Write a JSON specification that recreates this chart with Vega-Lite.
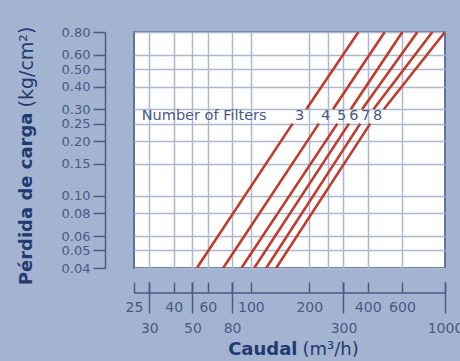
{
  "$schema": "https://vega.github.io/schema/vega-lite/v6.json",
  "width": 311,
  "height": 236,
  "autosize": {"type": "none"},
  "padding": {"left": 134, "top": 32, "right": 15, "bottom": 93},
  "background": "#a3b4d3",
  "config": {
    "view": {"fill": "#ffffff", "stroke": "#62729b", "strokeWidth": 2},
    "font": "DejaVu Sans",
    "axis": {
      "labelFont": "DejaVu Sans", "labelFontSize": 14, "labelColor": "#4a5a84",
      "titleFont": "DejaVu Sans", "titleFontSize": 18, "titleColor": "#233a6e",
      "domainColor": "#4a5a84", "tickColor": "#4a5a84", "domainWidth": 1.5, "tickWidth": 1.5,
      "gridColor": "#adb7d3", "gridWidth": 1.5,
      "labelFlush": false, "labelOverlap": false, "labelBound": false, "grid": false
    }
  },
  "datasets": {
    "lines": [
      {"filters": "3", "seg": "lower", "caudal": 52.7, "perdida": 0.04},
      {"filters": "3", "seg": "lower", "caudal": 164, "perdida": 0.25},
      {"filters": "3", "seg": "upper", "caudal": 193, "perdida": 0.30},
      {"filters": "3", "seg": "upper", "caudal": 358, "perdida": 0.80},
      {"filters": "4", "seg": "lower", "caudal": 72, "perdida": 0.04},
      {"filters": "4", "seg": "lower", "caudal": 224, "perdida": 0.25},
      {"filters": "4", "seg": "upper", "caudal": 265, "perdida": 0.30},
      {"filters": "4", "seg": "upper", "caudal": 489, "perdida": 0.80},
      {"filters": "5", "seg": "lower", "caudal": 89.4, "perdida": 0.04},
      {"filters": "5", "seg": "lower", "caudal": 279, "perdida": 0.25},
      {"filters": "5", "seg": "upper", "caudal": 327, "perdida": 0.30},
      {"filters": "5", "seg": "upper", "caudal": 603, "perdida": 0.80},
      {"filters": "6", "seg": "lower", "caudal": 104, "perdida": 0.04},
      {"filters": "6", "seg": "lower", "caudal": 320, "perdida": 0.25},
      {"filters": "6", "seg": "upper", "caudal": 374, "perdida": 0.30},
      {"filters": "6", "seg": "upper", "caudal": 721, "perdida": 0.80},
      {"filters": "7", "seg": "lower", "caudal": 120, "perdida": 0.04},
      {"filters": "7", "seg": "lower", "caudal": 366, "perdida": 0.25},
      {"filters": "7", "seg": "upper", "caudal": 428, "perdida": 0.30},
      {"filters": "7", "seg": "upper", "caudal": 861, "perdida": 0.80},
      {"filters": "8", "seg": "lower", "caudal": 135, "perdida": 0.04},
      {"filters": "8", "seg": "lower", "caudal": 412, "perdida": 0.25},
      {"filters": "8", "seg": "upper", "caudal": 484, "perdida": 0.30},
      {"filters": "8", "seg": "upper", "caudal": 1000, "perdida": 0.80}
    ],
    "notes": [
      {"label": "Number of Filters", "caudal": 27.4, "perdida": 0.274}
    ],
    "counts": [
      {"label": "3", "caudal": 178, "perdida": 0.274},
      {"label": "4", "caudal": 243, "perdida": 0.274},
      {"label": "5", "caudal": 293, "perdida": 0.274},
      {"label": "6", "caudal": 339, "perdida": 0.274},
      {"label": "7", "caudal": 391, "perdida": 0.274},
      {"label": "8", "caudal": 449, "perdida": 0.274}
    ]
  },
  "resolve": {"axis": {"x": "independent", "y": "independent"}},
  "layer": [
    {
      "data": {"name": "lines"},
      "transform": [{"filter": "datum.seg === 'lower'"}],
      "mark": {"type": "line", "color": "#c23a2a", "strokeWidth": 2.6, "clip": true},
      "encoding": {
        "x": {
          "field": "caudal", "type": "quantitative",
          "scale": {"type": "log", "domain": [25, 1000], "nice": false},
          "axis": {
            "orient": "bottom", "values": [30, 40, 50, 60, 80, 100, 200, 250, 300, 400, 600],
            "grid": true, "ticks": false, "labels": false, "domain": false, "title": null
          }
        },
        "y": {
          "field": "perdida", "type": "quantitative",
          "scale": {"type": "log", "domain": [0.04, 0.8], "nice": false},
          "axis": {
            "orient": "left", "offset": 29,
            "values": [0.04, 0.05, 0.06, 0.08, 0.1, 0.15, 0.2, 0.25, 0.3, 0.4, 0.5, 0.6, 0.8],
            "format": ".2f", "grid": true, "tickSize": 12, "labelPadding": 3, "labelFontSize": 13,
            "title": "Pérdida de carga", "titleFontWeight": "bold",
            "titleX": -79, "titleY": 80, "titleAlign": "right", "titleBaseline": "middle", "titleAngle": -90
          }
        },
        "detail": {"field": "filters"}
      }
    },
    {
      "data": {"name": "lines"},
      "transform": [{"filter": "datum.seg === 'upper'"}],
      "mark": {"type": "line", "color": "#c23a2a", "strokeWidth": 2.6, "clip": true},
      "encoding": {
        "x": {
          "field": "caudal", "type": "quantitative",
          "scale": {"type": "log", "domain": [25, 1000], "nice": false},
          "axis": {
            "orient": "bottom", "offset": 24.5, "values": [25, 40, 60, 100, 200, 400, 600],
            "format": "d", "ticks": false, "labels": true, "labelPadding": 8, "domain": true, "title": null
          }
        },
        "y": {
          "field": "perdida", "type": "quantitative",
          "scale": {"type": "log", "domain": [0.04, 0.8], "nice": false},
          "axis": {
            "orient": "left", "offset": 29, "values": [0.8],
            "ticks": false, "labels": false, "domain": false, "grid": false,
            "title": "(kg/cm²)", "titleFontWeight": "normal", "titleFontSize": 19,
            "titleX": -79, "titleY": 75, "titleAlign": "left", "titleBaseline": "middle", "titleAngle": -90
          }
        },
        "detail": {"field": "filters"}
      }
    },
    {
      "data": {"name": "notes"},
      "mark": {"type": "text", "align": "left", "baseline": "middle", "fontSize": 14.5, "color": "#4a5a84", "font": "DejaVu Sans"},
      "encoding": {
        "x": {
          "field": "caudal", "type": "quantitative",
          "scale": {"type": "log", "domain": [25, 1000], "nice": false},
          "axis": {
            "orient": "bottom", "offset": 14, "values": [25, 30, 40, 50, 60, 80, 100, 200, 300, 400, 600, 1000],
            "ticks": true, "tickSize": 10.5, "labels": false, "domain": false,
            "title": "Caudal", "titleFontWeight": "bold",
            "titleX": 163, "titleY": 67, "titleAlign": "right", "titleBaseline": "middle"
          }
        },
        "y": {
          "field": "perdida", "type": "quantitative",
          "scale": {"type": "log", "domain": [0.04, 0.8], "nice": false},
          "axis": null
        },
        "text": {"field": "label"}
      }
    },
    {
      "data": {"name": "counts"},
      "mark": {"type": "text", "align": "center", "baseline": "middle", "fontSize": 14.5, "color": "#4a5a84", "font": "DejaVu Sans"},
      "encoding": {
        "x": {
          "field": "caudal", "type": "quantitative",
          "scale": {"type": "log", "domain": [25, 1000], "nice": false},
          "axis": {
            "orient": "bottom", "offset": 14, "values": [30, 50, 80, 300, 1000],
            "format": "d", "ticks": true, "tickSize": 31, "labels": true, "labelPadding": 8, "domain": false,
            "title": "(m³/h)", "titleFontWeight": "normal",
            "titleX": 168, "titleY": 67, "titleAlign": "left", "titleBaseline": "middle"
          }
        },
        "y": {
          "field": "perdida", "type": "quantitative",
          "scale": {"type": "log", "domain": [0.04, 0.8], "nice": false},
          "axis": null
        },
        "text": {"field": "label"}
      }
    }
  ]
}
